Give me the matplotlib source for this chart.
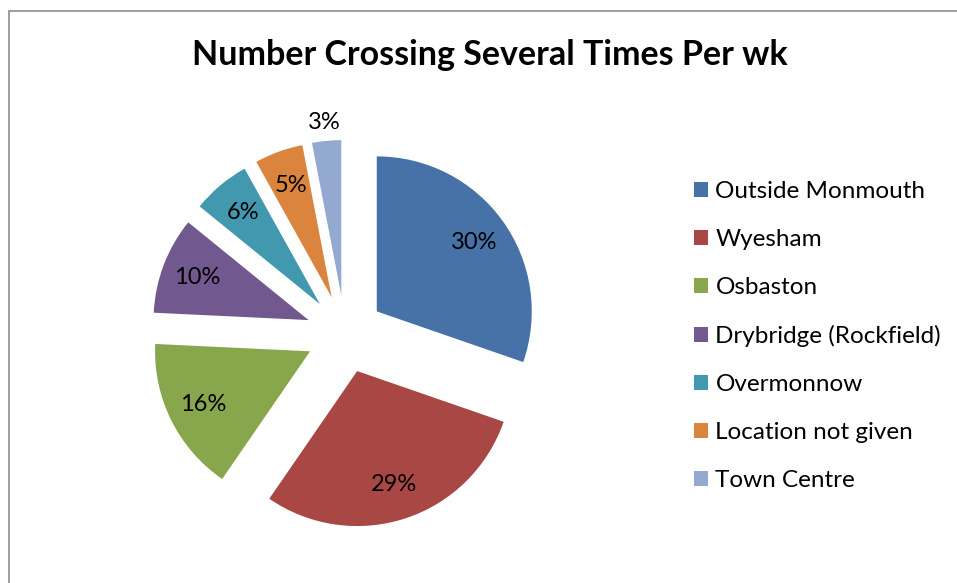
import matplotlib
matplotlib.use("Agg")
import matplotlib.pyplot as plt
from matplotlib.patches import Rectangle
import numpy as np

plt.rcParams['font.family'] = ['Lato', 'DejaVu Sans']

# data
title = "Number Crossing Several Times Per wk"
areas = ["Outside Monmouth", "Wyesham", "Osbaston", "Drybridge (Rockfield)",
         "Overmonnow", "Location not given", "Town Centre"]
shares = [30, 29, 16, 10, 6, 5, 3]
colours = ["#4672A8", "#A84744", "#88A64B", "#71588F",
           "#4198AF", "#DB843D", "#93A9CF"]

W, H = 957, 583
fig = plt.figure(figsize=(W / 100, H / 100), dpi=100)
ax = fig.add_axes([0, 0, 1, 1])

# pie laid out in pixel-like data units (y up)
radius = 155
wedges, texts, autotexts = ax.pie(
    shares, colors=colours, startangle=90, counterclock=False,
    center=(345, H - 334), radius=radius, explode=[39] * len(shares),
    autopct=lambda p: f"{p:.0f}%", pctdistance=0.77,
    textprops=dict(fontsize=17, color="black"),
    wedgeprops=dict(linewidth=0))

# smallest slice label sits outside the pie
w = wedges[-1]
mid = np.deg2rad((w.theta1 + w.theta2) / 2)
autotexts[-1].set_position((w.center[0] + 1.12 * w.r * np.cos(mid),
                            w.center[1] + 1.12 * w.r * np.sin(mid)))

ax.set_xlim(0, W)
ax.set_ylim(0, H)
ax.set_aspect('equal')
ax.axis('off')

fig.text(490 / W, 1 - 55 / H, title, ha='center', va='center',
         fontsize=24.5, fontweight='bold')

ax.legend(wedges, areas, loc='center left', frameon=False,
          bbox_to_anchor=(694 / W, 1 - 336 / H), bbox_transform=fig.transFigure,
          fontsize=17.5, handlelength=0.58, handleheight=0.58,
          handletextpad=0.3, labelspacing=1.11, borderpad=0, borderaxespad=0)

# chart area border (only left and top visible in the crop)
fig.patches.append(Rectangle((8.5 / W, -0.1), 1.2, (H - 10.5) / H + 0.1,
                             transform=fig.transFigure, fill=False,
                             edgecolor="#8c8c8c", linewidth=1.2))

fig.savefig("out.png", dpi=100)
